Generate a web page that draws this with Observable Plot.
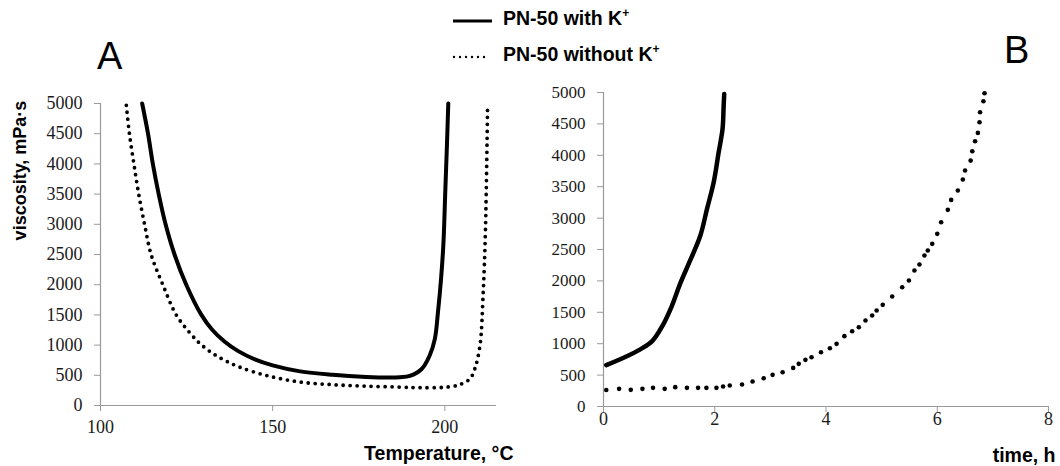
<!DOCTYPE html>
<html>
<head>
<meta charset="utf-8">
<script src="https://cdn.jsdelivr.net/npm/d3@7"></script>
<script src="https://cdn.jsdelivr.net/npm/@observablehq/plot@0.6"></script>
<style>
  body { margin: 0; background: white; }
  #fig { position: relative; width: 1060px; height: 466px; overflow: hidden; background: white; }
  .panel { position: absolute; top: 0; }
  .overlay { position: absolute; font-family: "Liberation Sans", Arial, sans-serif; color: #000; white-space: nowrap; }
  .leg { font-weight: bold; font-size: 19.5px; }
  .big { font-size: 38px; line-height: 38px; }
</style>
</head>
<body>
<div id="fig"></div>
<script>
// ---- Panel A: viscosity vs temperature ----
const tempWithK = [112.1, 113.8, 115.2, 116.9, 118.9, 121.5, 124.9, 129.3, 132.5, 136.0, 140.0, 145.0, 150.0, 158.0, 167.4, 177.2, 184.0, 187.0, 189.8, 193.2, 195.6, 197.1, 198.0, 198.9, 199.6, 200.1, 200.6, 201.0];
const viscWithK = [5000, 4500, 4000, 3500, 3000, 2500, 2000, 1500, 1250, 1060, 900, 760, 665, 565, 508, 472, 462, 468, 490, 600, 828, 1104, 1545, 2097, 2700, 3500, 4300, 5000];
const tempWithoutK = [107.5, 108.4, 109.7, 111.1, 112.8, 114.7, 118.1, 122.0, 125.7, 128.8, 132.4, 136.0, 140.2, 148.0, 157.7, 167.4, 177.2, 187.0, 192.7, 199.5, 203.5, 204.9, 207.3, 208.7, 210.2, 211.1, 211.8, 212.4];
const viscWithoutK = [4970, 4500, 4000, 3500, 3000, 2500, 2000, 1500, 1220, 1030, 870, 750, 640, 500, 390, 345, 320, 305, 295, 300, 330, 359, 442, 607, 993, 1821, 2925, 4940];

// ---- Panel B: viscosity vs time ----
const timeWithK = [0.05, 0.37, 0.67, 0.88, 1.06, 1.23, 1.38, 1.56, 1.74, 1.86, 1.98, 2.07, 2.14, 2.16, 2.17];
const viscTimeWithK = [659, 780, 914, 1046, 1285, 1604, 1960, 2330, 2718, 3143, 3567, 4045, 4417, 4788, 4975];
const timeWithoutK = [0.05, 0.28, 0.49, 0.70, 0.89, 1.10, 1.29, 1.50, 1.70, 1.85, 2.03, 2.15, 2.27, 2.49, 2.68, 2.88, 3.04, 3.22, 3.41, 3.51, 3.63, 3.74, 3.91, 4.07, 4.19, 4.33, 4.47, 4.59, 4.71, 4.83, 4.91, 5.02, 5.19, 5.37, 5.49, 5.59, 5.68, 5.77, 5.83, 5.91, 6.00, 6.07, 6.19, 6.25, 6.37, 6.46, 6.50, 6.60, 6.63, 6.68, 6.73, 6.76, 6.77, 6.83, 6.85];
const viscTimeWithoutK = [262, 281, 265, 281, 297, 281, 308, 297, 297, 297, 297, 318, 334, 350, 398, 451, 504, 546, 615, 679, 743, 785, 865, 928, 998, 1120, 1199, 1263, 1369, 1449, 1528, 1619, 1751, 1900, 2006, 2165, 2261, 2404, 2484, 2590, 2749, 2934, 3131, 3290, 3439, 3614, 3757, 3916, 4065, 4224, 4357, 4526, 4685, 4860, 4988];

// ---- Ticks and labels ----
const viscTicks = [0, 500, 1000, 1500, 2000, 2500, 3000, 3500, 4000, 4500, 5000];
const tempTicks = [100, 150, 200];
const timeTicks = [0, 2, 4, 6, 8];
const yLabel = "viscosity, mPa·s";
const xLabelA = "Temperature, °C";
const xLabelB = "time, h";
const legendWith = "PN-50 with K";
const legendWithout = "PN-50 without K";

const zip = (xs, ys) => xs.map((x, i) => ({x, y: ys[i]}));
const serif = "'Liberation Serif', 'Times New Roman', serif";
const sans = "'Liberation Sans', Arial, sans-serif";
const axisGrey = "#9a9a9a";
const tickText = "#1a1a1a";

const A1 = zip(tempWithK, viscWithK);
const A2 = zip(tempWithoutK, viscWithoutK);
const B1 = zip(timeWithK, viscTimeWithK);
const B2 = zip(timeWithoutK, viscTimeWithoutK);

const plotA = Plot.plot({
  width: 530, height: 466,
  marginLeft: 100, marginRight: 34, marginTop: 103, marginBottom: 61,
  style: {background: "transparent", overflow: "visible"},
  x: {domain: [100, 215], axis: null},
  y: {domain: [0, 5000], axis: null},
  marks: [
    Plot.ruleX([100], {y1: 0, y2: 5000, stroke: axisGrey, strokeWidth: 1.2}),
    Plot.ruleY([0], {x1: 99.2, x2: 215, stroke: axisGrey, strokeWidth: 1.2}),
    Plot.axisY({ticks: viscTicks, tickSize: 6, tickPadding: 12, stroke: axisGrey, fill: tickText, fontSize: 18, fontFamily: serif, tickFormat: d => String(d), label: null}),
    Plot.axisX({ticks: tempTicks, tickSize: 6, tickPadding: 9, stroke: axisGrey, fill: tickText, fontSize: 18, fontFamily: serif, tickFormat: d => String(d), label: null}),
    Plot.line(A2, {x: "x", y: "y", stroke: "#000", strokeWidth: 3.8, strokeDasharray: "0,7", strokeLinecap: "round", curve: "catmull-rom"}),
    Plot.line(A1, {x: "x", y: "y", stroke: "#000", strokeWidth: 4, curve: "catmull-rom"}),
    Plot.text([yLabel], {frameAnchor: "top-left", dx: -80, dy: 67, rotate: -90, textAnchor: "middle", lineAnchor: "middle", fontSize: 18, fontWeight: "bold", fontFamily: sans, fill: "#000"}),
    Plot.text([xLabelA], {frameAnchor: "bottom-right", dx: 17, dy: 48, textAnchor: "end", lineAnchor: "middle", fontSize: 19.5, fontWeight: "bold", fontFamily: sans, fill: "#000"})
  ]
});

const plotB = Plot.plot({
  width: 530, height: 466,
  marginLeft: 73, marginRight: 12, marginTop: 92, marginBottom: 60,
  style: {background: "transparent", overflow: "visible"},
  x: {domain: [0, 8], axis: null},
  y: {domain: [0, 5000], axis: null},
  marks: [
    Plot.ruleX([0], {y1: 0, y2: 5000, stroke: axisGrey, strokeWidth: 1.2}),
    Plot.ruleY([0], {x1: -0.05, x2: 8, stroke: axisGrey, strokeWidth: 1.2}),
    Plot.axisY({ticks: viscTicks, tickSize: 6, tickPadding: 12, stroke: axisGrey, fill: tickText, fontSize: 17, fontFamily: serif, tickFormat: d => String(d), label: null}),
    Plot.axisX({ticks: timeTicks, tickSize: 6, tickPadding: 0, stroke: axisGrey, fill: tickText, fontSize: 18, fontFamily: serif, tickFormat: d => String(d), label: null}),
    Plot.dot(B2, {x: "x", y: "y", r: 2.3, fill: "#000", stroke: null}),
    Plot.line(B1, {x: "x", y: "y", stroke: "#000", strokeWidth: 4.5, strokeLinecap: "round", curve: "catmull-rom"}),
    Plot.text([xLabelB], {frameAnchor: "bottom-right", dx: 7, dy: 49, textAnchor: "end", lineAnchor: "middle", fontSize: 19.5, fontWeight: "bold", fontFamily: sans, fill: "#000"})
  ]
});

const fig = document.getElementById("fig");
plotA.classList.add("panel"); plotA.style.left = "0px";
plotB.classList.add("panel"); plotB.style.left = "530px";
fig.appendChild(plotA);
fig.appendChild(plotB);

// Legend and panel letters
function addDiv(html, cls, left, top) {
  const d = document.createElement("div");
  d.className = "overlay " + cls;
  d.style.left = left + "px";
  d.style.top = top + "px";
  d.innerHTML = html;
  fig.appendChild(d);
  return d;
}
const ns = "http://www.w3.org/2000/svg";
const leg = document.createElementNS(ns, "svg");
leg.setAttribute("width", 60); leg.setAttribute("height", 70);
leg.style.position = "absolute"; leg.style.left = "450px"; leg.style.top = "0px";
leg.innerHTML = `<line x1="3" x2="42" y1="21" y2="21" stroke="#000" stroke-width="3"/>
<line x1="4" x2="38" y1="57" y2="57" stroke="#000" stroke-width="2.4" stroke-dasharray="0,6" stroke-linecap="round"/>`;
fig.appendChild(leg);
addDiv(legendWith + "<sup style='font-size:12px'>+</sup>", "leg", 503, 6);
addDiv(legendWithout + "<sup style='font-size:12px'>+</sup>", "leg", 503, 42);
addDiv("A", "big", 97, 37);
addDiv("B", "big", 1004, 31);
</script>
</body>
</html>
